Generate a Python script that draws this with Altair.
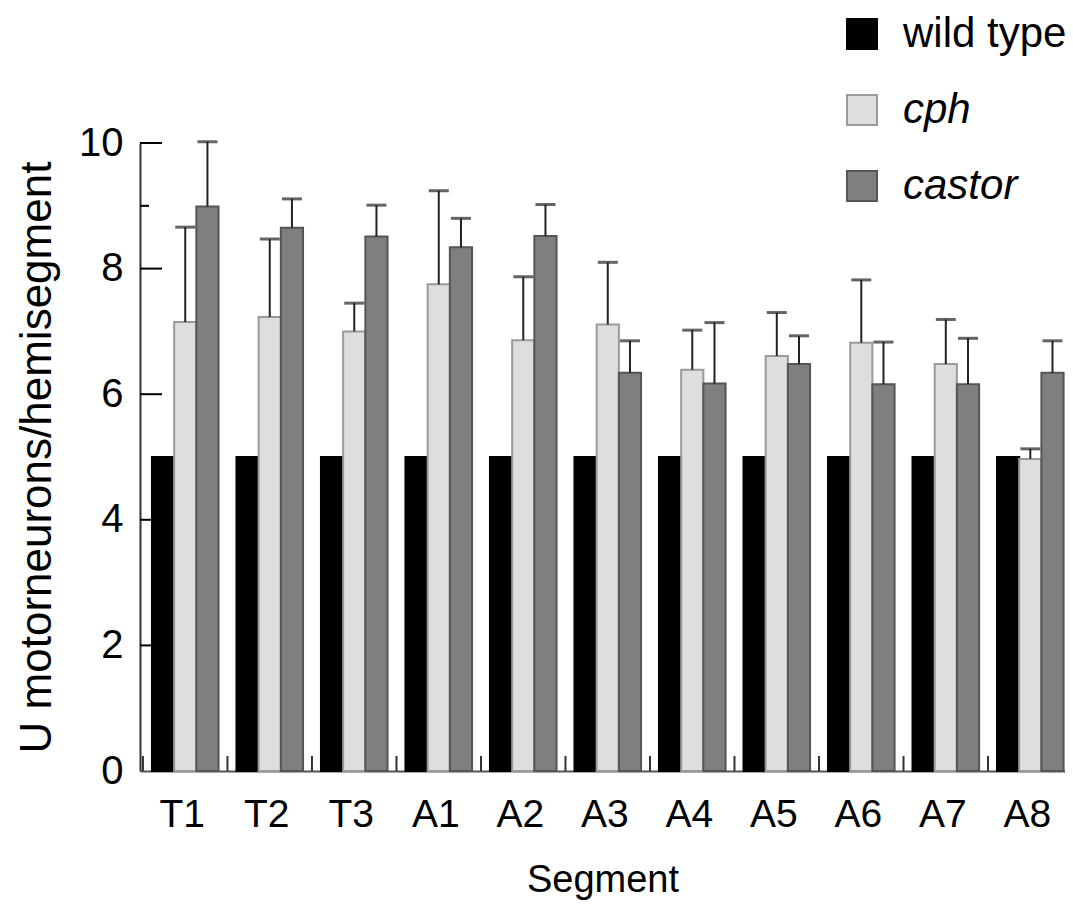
import altair as alt
import pandas as pd

segments = ["T1", "T2", "T3", "A1", "A2", "A3", "A4", "A5", "A6", "A7", "A8"]
genotypes = ["wild type", "cph", "castor"]

wt_mean = [5, 5, 5, 5, 5, 5, 5, 5, 5, 5, 5]
wt_err = [0, 0, 0, 0, 0, 0, 0, 0, 0, 0, 0]
cph_mean = [7.15, 7.23, 7.0, 7.75, 6.86, 7.11, 6.39, 6.61, 6.82, 6.48, 4.97]
cph_err = [1.51, 1.24, 0.45, 1.49, 1.01, 0.99, 0.63, 0.69, 1.0, 0.71, 0.16]
castor_mean = [8.99, 8.65, 8.51, 8.34, 8.52, 6.34, 6.17, 6.48, 6.16, 6.16, 6.34]
castor_err = [1.03, 0.46, 0.50, 0.46, 0.50, 0.51, 0.97, 0.45, 0.67, 0.73, 0.51]

y_major_ticks = [2, 4, 6, 8, 10]
y_minor_ticks = [9]

rows = []
for g, means, errs in [("wild type", wt_mean, wt_err), ("cph", cph_mean, cph_err), ("castor", castor_mean, castor_err)]:
    for s, m, e in zip(segments, means, errs):
        rows.append({"segment": s, "genotype": g, "mean": m, "err": e})
df = pd.DataFrame(rows)

FONT = "Liberation Sans"
H = 628
W = 925

xscale = alt.Scale(domain=segments, paddingInner=0.212, paddingOuter=0.079, align=0.895)
yscale = alt.Scale(domain=[0, 10], nice=False)
offscale = alt.Scale(domain=genotypes)

x_axis = alt.Axis(labelAngle=0, ticks=False, labelFontSize=39, labelPadding=24, labelOffset=-3,
                  titleFontSize=38, titlePadding=27, titleFontWeight="normal",
                  domainColor="#555555", domainWidth=2, labelColor="#000", titleColor="#000",
                  labelFont=FONT, titleFont=FONT, grid=False)
y_axis = alt.Axis(values=[0, 2, 4, 6, 8, 10], ticks=False, labelFontSize=40, labelPadding=17,
                  titleFontSize=44, titlePadding=19, titleFontWeight="normal",
                  domainColor="#333333", domainWidth=2, labelColor="#000", titleColor="#000",
                  labelFont=FONT, titleFont=FONT, grid=False)
XT = "Segment"
YT = "U motorneurons/hemisegment"

def xenc(**kw):
    return alt.X("segment:N", sort=segments, scale=xscale, axis=x_axis, title=XT, **kw)

def yenc(field):
    return alt.Y(field, scale=yscale, axis=y_axis, title=YT)

xoff = alt.XOffset("genotype:N", sort=genotypes, scale=offscale)

bars = alt.Chart(df).mark_bar(strokeWidth=2).encode(
    x=xenc(),
    xOffset=xoff,
    y=yenc("mean:Q"),
    fill=alt.Fill(
        "genotype:N", sort=genotypes,
        scale=alt.Scale(domain=genotypes, range=["#000000", "#dedede", "#7f7f7f"]),
        legend=alt.Legend(
            title=None, orient="none", legendX=701, legendY=-130,
            symbolType="square", symbolSize=900, symbolStrokeColor="#444444",
            symbolStrokeWidth=2, symbolOpacity=1, labelFontSize=42, labelFont=FONT,
            labelColor="#000", rowPadding=34, labelOffset=20, padding=0, labelLimit=400,
            labelFontStyle={"expr": "datum.label == 'wild type' ? 'normal' : 'italic'"},
        ),
    ),
    stroke=alt.Stroke(
        "genotype:N", sort=genotypes,
        scale=alt.Scale(domain=genotypes, range=["#000000", "#9a9a9a", "#555555"]),
        legend=None,
    ),
)

errbase = alt.Chart(df).transform_filter("datum.err > 0").transform_calculate(
    upper="datum.mean + datum.err"
)
err_rule = errbase.mark_rule(color="#222222", strokeWidth=2).encode(
    x=xenc(),
    xOffset=xoff,
    y=yenc("mean:Q"),
    y2="upper:Q",
)
err_cap = errbase.mark_tick(color="#222222", thickness=3, size=20, orient="horizontal").encode(
    x=xenc(),
    xOffset=xoff,
    y=yenc("upper:Q"),
)

ytick_major = alt.Chart(pd.DataFrame({"v": y_major_ticks})).mark_rule(color="#000", strokeWidth=2).encode(
    y=yenc("v:Q"),
    x=alt.value(0),
    x2=alt.value(22),
)
ytick_minor = alt.Chart(pd.DataFrame({"v": y_minor_ticks})).mark_rule(color="#000", strokeWidth=2).encode(
    y=yenc("v:Q"),
    x=alt.value(0),
    x2=alt.value(9),
)
xtick = alt.Chart(pd.DataFrame({"segment": segments})).mark_rule(color="#333", strokeWidth=2, xOffset=-9).encode(
    x=xenc(bandPosition=0),
    y=alt.value(H - 15),
    y2=alt.value(H),
)

chart = alt.layer(bars, err_rule, err_cap, ytick_major, ytick_minor, xtick).properties(
    width=W, height=H,
    padding={"left": 132, "top": 135, "right": 0, "bottom": 133},
    autosize=alt.AutoSizeParams(type="none"),
    background="white",
).configure_view(stroke=None)

chart.save("out.html", embed_options={"renderer": "svg", "actions": False})
